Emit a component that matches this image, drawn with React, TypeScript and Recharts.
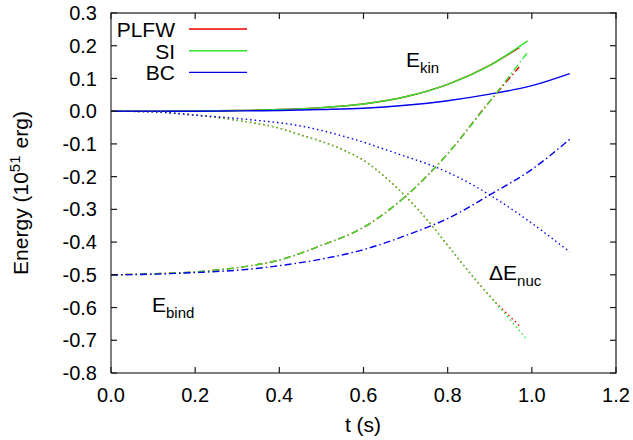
import React from 'react';
import { Line, LineChart, XAxis, YAxis } from 'recharts';

// time grids (s)
const tMain = [0, 0.1, 0.2, 0.3, 0.4, 0.5, 0.6, 0.7, 0.8, 0.9, 0.99];
const tMainPlfw = [0, 0.1, 0.2, 0.3, 0.4, 0.5, 0.6, 0.7, 0.8, 0.9, 0.97];
const tBc = [0, 0.1, 0.2, 0.3, 0.4, 0.5, 0.6, 0.7, 0.8, 0.9, 1.0, 1.09];

// kinetic energy (10^51 erg)
const ekinSI = [0, 0, 0.0005, 0.002, 0.005, 0.011, 0.022, 0.044, 0.082, 0.14, 0.215];
const ekinPLFW = [0, 0, 0.0005, 0.002, 0.005, 0.011, 0.022, 0.044, 0.082, 0.14, 0.194];
const ekinBC = [0, 0, 0, 0.001, 0.002, 0.005, 0.009, 0.018, 0.032, 0.052, 0.078, 0.115];

// binding energy
const ebindSI = [-0.5, -0.497, -0.491, -0.478, -0.455, -0.41, -0.355, -0.26, -0.13, 0.03, 0.18];
const ebindPLFW = [-0.5, -0.497, -0.491, -0.478, -0.455, -0.41, -0.355, -0.26, -0.13, 0.03, 0.135];
const ebindBC = [-0.5, -0.498, -0.493, -0.486, -0.472, -0.452, -0.423, -0.38, -0.328, -0.256, -0.178, -0.086];

// nuclear energy release
const tNuc = [0, 0.1, 0.2, 0.3, 0.4, 0.45, 0.5, 0.55, 0.6, 0.65, 0.7, 0.75, 0.8, 0.85, 0.9, 0.95, 0.99];
const enucSI = [0, -0.002, -0.012, -0.028, -0.052, -0.073, -0.093, -0.118, -0.15, -0.2, -0.26, -0.33, -0.41, -0.49, -0.565, -0.64, -0.7];
const tNucPlfw = [0, 0.1, 0.2, 0.3, 0.4, 0.45, 0.5, 0.55, 0.6, 0.65, 0.7, 0.75, 0.8, 0.85, 0.9, 0.95, 0.97];
const enucPLFW = [0, -0.002, -0.012, -0.028, -0.052, -0.072, -0.092, -0.117, -0.15, -0.2, -0.26, -0.33, -0.41, -0.49, -0.565, -0.63, -0.655];
const tNucBc = [0, 0.1, 0.2, 0.33, 0.45, 0.57, 0.69, 0.77, 0.83, 0.9, 0.97, 1.09];
const enucBC = [0, -0.002, -0.012, -0.026, -0.045, -0.083, -0.134, -0.17, -0.205, -0.256, -0.315, -0.43];

const xTicks = [0, 0.2, 0.4, 0.6, 0.8, 1.0, 1.2];
const yTicks = [-0.8, -0.7, -0.6, -0.5, -0.4, -0.3, -0.2, -0.1, 0, 0.1, 0.2, 0.3];

const RED = '#ee0000';
const GREEN = '#2ee62e';
const BLUE = '#0000ee';
const INK = '#000';
const FRAME = '#1a1a1a';
const FONT = '"Liberation Sans", Arial, Helvetica, sans-serif';

// chart layout
const W = 633;
const H = 440;
const MARGIN = { top: 13, right: 17, left: 0, bottom: 0 };
const Y_AXIS_W = 111;
const X_AXIS_H = 67;
const PLOT = {
  left: MARGIN.left + Y_AXIS_W,
  right: W - MARGIN.right,
  top: MARGIN.top,
  bottom: H - MARGIN.bottom - X_AXIS_H,
};
const TICK_LEN = 6;

const zip = (ts: number[], es: number[]) => ts.map((t, i) => ({ t, e: es[i] }));

const DOT = '1.5 3';
const DASHDOT = '7 3 1.5 3';

const series = [
  { key: 'ekinPLFW', data: zip(tMainPlfw, ekinPLFW), color: RED, dash: undefined },
  { key: 'ekinSI', data: zip(tMain, ekinSI), color: GREEN, dash: undefined },
  { key: 'ekinBC', data: zip(tBc, ekinBC), color: BLUE, dash: undefined },
  { key: 'enucPLFW', data: zip(tNucPlfw, enucPLFW), color: RED, dash: DOT },
  { key: 'enucSI', data: zip(tNuc, enucSI), color: GREEN, dash: DOT },
  { key: 'enucBC', data: zip(tNucBc, enucBC), color: BLUE, dash: DOT },
  { key: 'ebindPLFW', data: zip(tMainPlfw, ebindPLFW), color: RED, dash: DASHDOT },
  { key: 'ebindSI', data: zip(tMain, ebindSI), color: GREEN, dash: DASHDOT },
  { key: 'ebindBC', data: zip(tBc, ebindBC), color: BLUE, dash: DASHDOT },
];

const legendItems = [
  { name: 'PLFW', color: RED },
  { name: 'SI', color: GREEN },
  { name: 'BC', color: BLUE },
];

const fmt = (v: number) => v.toFixed(1);

// x tick: label below, inward tick marks on bottom and top edges
const XTick = (props: any) => {
  const { x, payload } = props;
  return (
    <g>
      <rect x={x - 0.6} y={PLOT.bottom - TICK_LEN} width={1.2} height={TICK_LEN} fill={FRAME} />
      <rect x={x - 0.6} y={PLOT.top} width={1.2} height={TICK_LEN} fill={FRAME} />
      <text x={x} y={PLOT.bottom + 15} dy="0.71em" textAnchor="middle" fill={INK} fontSize={20} fontFamily={FONT}>
        {fmt(payload.value)}
      </text>
    </g>
  );
};

// y tick: label on the left, inward tick marks on left and right edges
const YTick = (props: any) => {
  const { y, payload } = props;
  return (
    <g>
      <rect x={PLOT.left} y={y - 0.6} width={TICK_LEN} height={1.2} fill={FRAME} />
      <rect x={PLOT.right - TICK_LEN} y={y - 0.6} width={TICK_LEN} height={1.2} fill={FRAME} />
      <text x={PLOT.left - 14} y={y} dy="0.355em" textAnchor="end" fill={INK} fontSize={20} fontFamily={FONT}>
        {fmt(payload.value)}
      </text>
    </g>
  );
};

export default function App() {
  return (
    <div style={{ position: 'absolute', left: 0, top: 0, width: W, height: H }}>
      <LineChart width={W} height={H} margin={MARGIN}>
        <XAxis
          dataKey="t"
          type="number"
          domain={[0, 1.2]}
          ticks={xTicks}
          allowDataOverflow
          height={X_AXIS_H}
          stroke={INK}
          axisLine={{ stroke: INK }}
          tickLine={false}
          tick={<XTick />}
        />
        <YAxis
          type="number"
          domain={[-0.8, 0.3]}
          ticks={yTicks}
          allowDataOverflow
          width={Y_AXIS_W}
          stroke={INK}
          axisLine={{ stroke: INK }}
          tickLine={false}
          tick={<YTick />}
        />
        {series.map((s) => (
          <Line
            key={s.key}
            data={s.data}
            dataKey="e"
            type="monotone"
            stroke={s.color}
            strokeWidth={1.4}
            strokeDasharray={s.dash}
            dot={false}
            activeDot={false}
            isAnimationActive={false}
          />
        ))}

        {/* top and right edges of the frame, as thin filled bars */}
        <rect x={PLOT.left - 0.6} y={PLOT.top - 0.6} width={PLOT.right - PLOT.left + 1.2} height={1.2} fill={FRAME} />
        <rect x={PLOT.right - 0.6} y={PLOT.top - 0.6} width={1.2} height={PLOT.bottom - PLOT.top + 1.2} fill={FRAME} />

        {/* legend, top left inside the frame */}
        <g fontFamily={FONT} fontSize={21}>
          {legendItems.map((it, i) => (
            <g key={it.name}>
              <text x={175} y={37 + i * 21.7} textAnchor="end" fill={INK}>
                {it.name}
              </text>
              <line x1={189} x2={247} y1={29 + i * 21.7} y2={29 + i * 21.7} stroke={it.color} strokeWidth={1.4} />
            </g>
          ))}
        </g>

        {/* curve annotations */}
        <g fontFamily={FONT} fill={INK}>
          <text x={406} y={67} fontSize={21}>
            E<tspan fontSize={15} dy={6}>kin</tspan>
          </text>
          <text x={152} y={312} fontSize={21}>
            E<tspan fontSize={15} dy={6}>bind</tspan>
          </text>
          <text x={489} y={280} fontSize={21}>
            ΔE<tspan fontSize={15} dy={6}>nuc</tspan>
          </text>
        </g>

        {/* axis titles */}
        <g fontFamily={FONT} fontSize={21} fill={INK}>
          <text x={363} y={432} textAnchor="middle">t (s)</text>
          <text x={28} y={193} textAnchor="middle" transform="rotate(-90, 28, 193)">
            Energy (10<tspan fontSize={15} dy={-8}>51</tspan>
            <tspan dy={8} dx={7}>erg)</tspan>
          </text>
        </g>
      </LineChart>
    </div>
  );
}
